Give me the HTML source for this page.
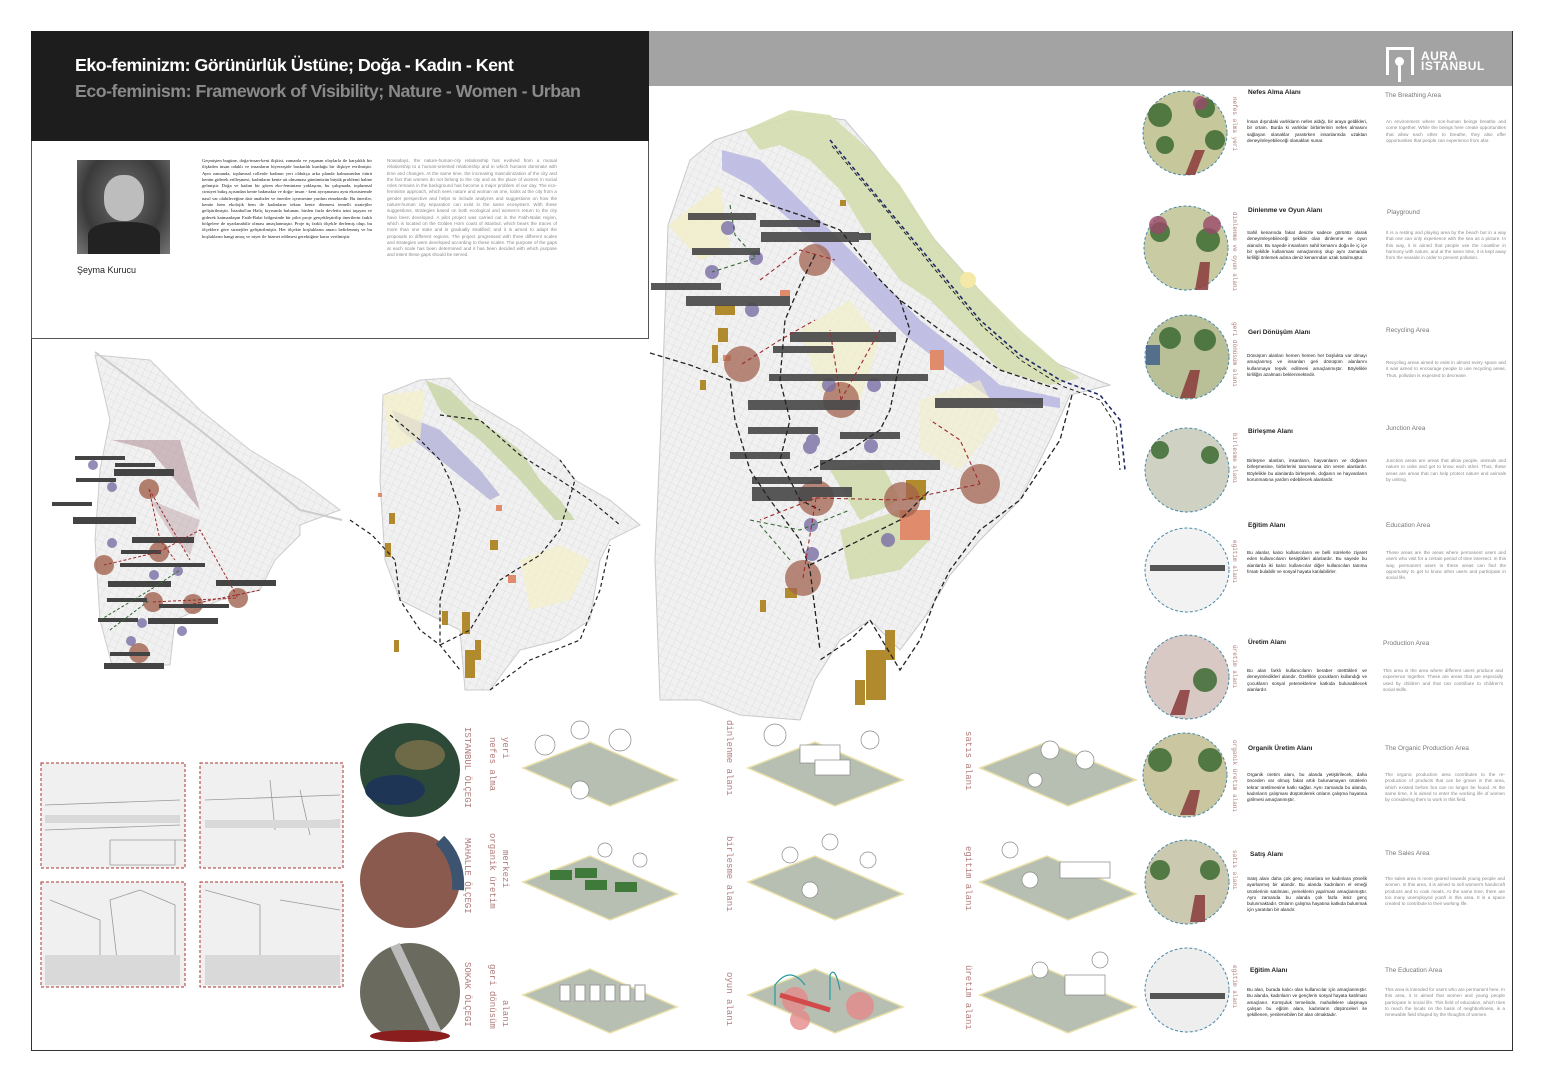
<!DOCTYPE html>
<html><head><meta charset="utf-8">
<style>
*{margin:0;padding:0;box-sizing:border-box}
body{width:1542px;height:1079px;background:#fff;position:relative;overflow:hidden;font-family:"Liberation Sans",sans-serif}
.a{position:absolute}
.p{position:absolute;font-size:4.6px;line-height:6.3px;text-align:justify;color:#222}
.pg{position:absolute;font-size:4.6px;line-height:6.3px;text-align:justify;color:#888}
.t{position:absolute;font-size:6.5px;font-weight:bold;color:#222}
.te{position:absolute;font-size:6.5px;color:#777}
.v{position:absolute;writing-mode:vertical-rl;font-family:"Liberation Mono",monospace;color:#b07a7a;font-size:9px}
.vs{position:absolute;writing-mode:vertical-rl;font-family:"Liberation Mono",monospace;color:#b07a7a;font-size:6px}
</style></head><body>
<div class="a" style="left:31px;top:31px;width:1482px;height:1020px;border:1px solid #333"></div>
<div class="a" style="left:31px;top:31px;width:618px;height:110px;background:#1d1d1d"></div>
<div class="a" style="left:649px;top:31px;width:863px;height:55px;background:#a3a3a3"></div>
<div class="a" style="left:31px;top:141px;width:618px;height:198px;border:1px solid #555;border-top:none"></div>
<div class="a" style="left:75px;top:55px;color:#fff;font-size:17.8px;font-weight:bold;letter-spacing:-0.5px">Eko-feminizm: Görünürlük Üstüne; Doğa - Kadın - Kent</div>
<div class="a" style="left:75px;top:81px;color:#8a8a8a;font-size:17.8px;font-weight:bold;letter-spacing:-0.5px">Eco-feminism: Framework of Visibility; Nature - Women - Urban</div>
<!-- logo -->
<div class="a" style="left:1386px;top:47px;width:28px;height:28px;border:3px solid #fff;border-bottom:none"></div>
<div class="a" style="left:1395px;top:57px;width:9px;height:9px;border-radius:50%;background:#fff"></div>
<div class="a" style="left:1398px;top:66px;width:3px;height:16px;background:#fff"></div>
<div class="a" style="left:1421px;top:51px;color:#fff;font-size:12px;font-weight:bold;line-height:10px;letter-spacing:0.5px">AURA<br>ISTANBUL</div>
<!-- photo -->
<div class="a" style="left:77px;top:160px;width:93px;height:94px;background:radial-gradient(ellipse at 50% 40%,#8a8a8a 0,#555 30%,#3a3a3a 60%,#777 100%)"></div>
<div class="a" style="left:104px;top:175px;width:40px;height:46px;border-radius:45%;background:#bdbdbd"></div>
<div class="a" style="left:88px;top:222px;width:72px;height:32px;border-radius:40% 40% 0 0;background:#222"></div>
<div class="a" style="left:77px;top:265px;font-size:9px;color:#222">Şeyma Kurucu</div>
<div class="p" style="left:202px;top:158px;width:170px;font-family:'Liberation Serif',serif">Geçmişten bugüne, doğa-insan-kent ilişkisi, zamanla ve yaşanan olaylarla ile karşılıklı bir ilişkiden insan odaklı ve insanların hiyerarşide baskınlık kurduğu bir ilişkiye evrilmiştir. Aynı zamanda, toplumsal rollerde kadının yeri oldukça arka planda kalmasından ötürü kentin giderek erilleşmesi, kadınların kente ait olmaması günümüzün büyük problemi haline gelmiştir. Doğa ve kadını bir gören eko-feminizm yaklaşımı, bu çalışmada, toplumsal cinsiyet bakış açısından kente bakmakta ve doğa- insan - kent ayrışmasını aynı ekosistemde nasıl var olabileceğine dair analizler ve öneriler içermesine yardım etmektedir. Bu öneriler, kentte hem ekolojik hem de kadınların tekrar kente dönmesi temelli stratejiler geliştirilmiştir. İstanbul'un Haliç kıyısında bulunan, birden fazla devletin izini taşıyan ve giderek katmanlaşan Fatih-Balat bölgesinde bir pilot proje gerçekleştirilip önerilerin farklı bölgelere de uyarlanabilir olması amaçlanmıştır. Proje üç farklı ölçekle ilerlemiş olup, bu ölçeklere göre stratejiler geliştirilmiştir. Her ölçekte boşlukların amacı belirlenmiş ve bu boşlukların hangi amaç ve niyet ile hizmet edilmesi gerektiğine karar verilmiştir.</div>
<div class="pg" style="left:387px;top:158px;width:170px">Nowadays, the nature-human-city relationship has evolved from a mutual relationship to a human-oriented relationship and in which humans dominate with time and changes. At the same time, the increasing masculinization of the city and the fact that women do not belong to the city and as the place of women in social roles remains in the background has become a major problem of our day. The eco-feminism approach, which sees nature and woman as one, looks at the city from a gender perspective and helps to include analyzes and suggestions on how the nature-human city separation can exist in the same ecosystem. With these suggestions, strategies based on both ecological and women's return to the city have been developed. A pilot project was carried out in the Fatih-Balat region, which is located on the Golden Horn coast of Istanbul, which bears the traces of more than one state and is gradually stratified; and it is aimed to adapt the proposals to different regions. The project progressed with three different scales and strategies were developed according to these scales. The purpose of the gaps at each scale has been determined and it has been decided with which purpose and intent these gaps should be served.</div>

<svg class="a" style="left:0;top:0" width="1542" height="1079" viewBox="0 0 1542 1079">
<defs>
<pattern id="st" width="7" height="7" patternUnits="userSpaceOnUse" patternTransform="rotate(25)"><rect width="7" height="7" fill="#f1f1f1"/><path d="M0 0H7M0 0V7" stroke="#d2d2d2" stroke-width="0.6"/></pattern>
</defs>
<!-- LEFT MAP -->
<g>
<path d="M95 355 L110 420 L100 470 L95 540 L100 620 L112 665 L170 665 L175 620 L220 600 L260 590 L275 560 L300 535 L300 525 L340 510 L300 480 L250 450 L200 410 L150 360 Z" fill="url(#st)" stroke="#ccc"/>
<path d="M95 352 L200 430 L300 510 L342 520" fill="none" stroke="#ccc" stroke-width="2"/>
<path d="M112 440 L150 450 L200 510 L180 440 Z" fill="#a9848c" opacity=".5"/>
<path d="M150 500 L175 540 L190 555 L200 520 Z" fill="#a9848c" opacity=".35"/>
<g fill="#a2634f" opacity=".8">
<circle cx="149" cy="489" r="10"/><circle cx="104" cy="565" r="10"/><circle cx="159" cy="552" r="10"/><circle cx="153" cy="602" r="10"/><circle cx="193" cy="604" r="10"/><circle cx="238" cy="598" r="10"/><circle cx="139" cy="653" r="10"/></g>
<g fill="#7a6fa6" opacity=".8">
<circle cx="93" cy="465" r="5"/><circle cx="112" cy="487" r="5"/><circle cx="112" cy="543" r="5"/><circle cx="154" cy="575" r="5"/><circle cx="178" cy="571" r="5"/><circle cx="142" cy="623" r="5"/><circle cx="182" cy="631" r="5"/><circle cx="131" cy="641" r="5"/></g>
<g fill="#444"><rect x="75" y="456" width="50" height="4"/><rect x="115" y="463" width="40" height="4"/><rect x="114" y="469" width="60" height="7"/><rect x="76" y="478" width="40" height="4"/><rect x="52" y="502" width="40" height="4"/><rect x="73" y="517" width="63" height="7"/><rect x="132" y="537" width="62" height="6"/><rect x="121" y="550" width="40" height="4"/><rect x="120" y="563" width="60" height="4"/><rect x="165" y="563" width="40" height="4"/><rect x="108" y="581" width="63" height="6"/><rect x="107" y="598" width="40" height="4"/><rect x="159" y="604" width="70" height="4"/><rect x="216" y="580" width="60" height="6"/><rect x="98" y="618" width="40" height="4"/><rect x="148" y="618" width="70" height="6"/><rect x="110" y="652" width="40" height="4"/><rect x="104" y="663" width="60" height="6"/></g>
<g stroke="#9b2d2d" stroke-width="1" stroke-dasharray="3 2" fill="none"><path d="M149 489 L160 540 L175 560 M149 489 L190 560 M159 552 L200 530 L238 598 M153 602 L238 598 M193 604 L260 590 M104 565 L159 552"/></g>
<g stroke="#3a6a3a" stroke-width="1" stroke-dasharray="3 2" fill="none"><path d="M100 620 L150 590 L180 570 M110 630 L150 600"/></g>
</g>
<!-- MIDDLE MAP -->
<g>
<path d="M383 395 L420 380 L450 378 L470 400 L520 430 L560 460 L575 480 L610 500 L640 525 L610 540 L600 560 L590 620 L560 640 L520 650 L490 690 L465 690 L460 630 L400 600 L385 560 L380 480 Z" fill="url(#st)" stroke="#ccc"/>
<path d="M425 380 L450 390 L480 420 L520 450 L540 480 L560 500 L575 520 L555 520 L520 480 L480 440 L440 410 Z" fill="#c7d4a4" opacity=".8"/>
<path d="M392 410 L440 430 L480 470 L500 495 L490 500 L440 460 L400 430 Z" fill="#b3b3d8" opacity=".8"/>
<path d="M383 395 L425 390 L420 440 L390 450 Z" fill="#f3f0c8" opacity=".7"/>
<path d="M520 560 L560 545 L590 560 L570 600 L530 610 Z" fill="#f3f0c8" opacity=".7"/>
<g fill="#b28a2e"><rect x="389" y="513" width="6" height="11"/><rect x="385" y="543" width="6" height="14"/><rect x="442" y="611" width="6" height="14"/><rect x="462" y="612" width="8" height="22"/><rect x="465" y="650" width="10" height="28"/><rect x="475" y="640" width="6" height="20"/><rect x="490" y="540" width="8" height="10"/><rect x="394" y="640" width="5" height="12"/></g>
<g fill="#e08b6b"><rect x="508" y="575" width="8" height="8"/><rect x="496" y="505" width="6" height="6"/><rect x="378" y="493" width="4" height="4"/></g>
<g stroke="#222" stroke-width="1.2" stroke-dasharray="4 3" fill="none">
<path d="M350 520 L372 535 L395 560 L400 600 L420 630 L440 645 L460 670"/>
<path d="M390 415 L420 440 L440 460 L450 480 L460 510 L450 560 L440 600 L440 645 L470 630 L500 580 L540 555 L560 530 L575 480 L560 460"/>
<path d="M490 690 L530 660 L580 640 L600 590 L610 545"/>
<path d="M440 415 L480 420 L520 455 L560 480 L590 500 L620 525"/>
</g>
</g>
<!-- BIG MAP -->
<g>
<path d="M668 225 L690 160 L715 140 L745 130 L780 120 L810 115 L845 120 L875 155 L900 190 L935 240 L975 285 L1020 340 L1060 365 L1110 385 L1070 395 L1050 440 L1020 500 L980 540 L950 575 L930 610 L900 650 L870 620 L840 640 L815 680 L800 720 L740 715 L700 700 L660 700 L655 560 L662 400 Z" fill="url(#st)" stroke="#c8c8c8"/>
<path d="M745 130 L790 110 L830 115 L870 150 L900 185 L935 240 L975 285 L1020 330 L1060 365 L1080 378 L1050 385 L1000 370 L960 330 L930 300 L900 280 L870 240 L840 190 L810 160 L780 145 L760 150 Z" fill="#d4ddb0" opacity=".9"/>
<path d="M722 150 L760 160 L800 200 L840 240 L880 280 L920 320 L965 355 L1000 385 L1060 398 L1060 408 L990 398 L950 370 L905 335 L870 300 L830 260 L790 220 L750 185 L722 170 Z" fill="#b9b6e0" opacity=".85"/>
<path d="M668 225 L720 185 L730 250 L700 260 Z" fill="#f2efc8" opacity=".8"/>
<path d="M800 330 L850 300 L880 340 L860 400 L820 390 Z" fill="#f2efc8" opacity=".7"/>
<path d="M920 400 L980 380 L1000 420 L960 470 L920 450 Z" fill="#f2efc8" opacity=".6"/>
<path d="M830 470 L880 460 L900 500 L860 520 Z" fill="#cfd9a8" opacity=".8"/>
<path d="M840 530 L900 510 L930 540 L900 570 L850 580 Z" fill="#cfd9a8" opacity=".8"/>
<circle cx="968" cy="280" r="8" fill="#f4e9a7"/>
<g fill="#b28a2e"><rect x="718" y="328" width="10" height="14"/><rect x="712" y="345" width="6" height="18"/><rect x="700" y="380" width="6" height="10"/><rect x="715" y="305" width="20" height="10"/><rect x="906" y="480" width="20" height="20"/><rect x="866" y="650" width="20" height="50"/><rect x="885" y="630" width="10" height="30"/><rect x="855" y="680" width="10" height="25"/><rect x="785" y="588" width="12" height="10"/><rect x="760" y="600" width="6" height="12"/><rect x="840" y="200" width="6" height="6"/></g>
<g fill="#e08b6b"><rect x="900" y="510" width="30" height="30"/><rect x="930" y="350" width="14" height="20"/><rect x="780" y="290" width="10" height="6"/><rect x="723" y="355" width="8" height="6"/></g>
<g fill="#a2634f" opacity=".75"><circle cx="742" cy="364" r="18"/><circle cx="816" cy="498" r="18"/><circle cx="841" cy="400" r="18"/><circle cx="902" cy="500" r="18"/><circle cx="980" cy="484" r="20"/><circle cx="803" cy="578" r="18"/><circle cx="815" cy="260" r="16"/></g>
<g fill="#7a6fa6" opacity=".8"><circle cx="728" cy="228" r="7"/><circle cx="756" cy="258" r="7"/><circle cx="712" cy="272" r="7"/><circle cx="752" cy="310" r="7"/><circle cx="829" cy="385" r="7"/><circle cx="874" cy="385" r="7"/><circle cx="813" cy="441" r="7"/><circle cx="871" cy="446" r="7"/><circle cx="810" cy="447" r="7"/><circle cx="812" cy="554" r="7"/><circle cx="888" cy="540" r="7"/><circle cx="811" cy="525" r="7"/></g>
<g fill="#4a4a4a" opacity=".92">
<rect x="688" y="213" width="68" height="7"/><rect x="760" y="220" width="60" height="7"/><rect x="761" y="232" width="98" height="10"/><rect x="791" y="233" width="80" height="7"/><rect x="692" y="248" width="68" height="7"/><rect x="651" y="283" width="70" height="7"/><rect x="686" y="296" width="104" height="10"/><rect x="790" y="332" width="106" height="10"/><rect x="773" y="346" width="60" height="7"/><rect x="769" y="374" width="80" height="7"/><rect x="848" y="374" width="80" height="7"/><rect x="935" y="398" width="108" height="10"/><rect x="748" y="400" width="112" height="10"/><rect x="748" y="427" width="70" height="7"/><rect x="840" y="432" width="60" height="7"/><rect x="730" y="452" width="60" height="7"/><rect x="820" y="460" width="120" height="10"/><rect x="752" y="477" width="70" height="7"/><rect x="752" y="487" width="100" height="10"/><rect x="752" y="494" width="60" height="7"/></g>
<g stroke="#222" stroke-width="1.3" stroke-dasharray="5 3" fill="none">
<path d="M650 353 L690 365 L730 380 L735 420 L750 470 L770 500 L800 540 L810 570 L815 610 L820 650"/>
<path d="M740 195 L800 215 L840 230 L880 280 L900 300 L940 330 L970 350 L1000 370 L1060 390"/>
<path d="M815 255 L800 285 L785 320 L780 380 L790 420 L780 460 L800 500 L820 510"/>
<path d="M900 300 L910 330 L900 360 L890 410 L880 430 L850 450 L810 470"/>
<path d="M1072 395 L1060 440 L1020 500 L980 530 L950 570 L935 600 L920 640 L900 670 L870 620 L850 640 L820 660"/>
<path d="M810 565 L860 540 L900 520 L930 490"/>
</g>
<path d="M830 140 L880 200 L930 260 L980 320 L1020 355 L1060 380 L1100 395 L1120 420 L1125 470" stroke="#1f2a6a" stroke-width="1.6" stroke-dasharray="4 3" fill="none"/>
<path d="M832 146 L882 205 L932 266 L982 326 L1022 361 L1062 386 L1100 400 L1116 425 L1120 470" stroke="#222" stroke-width="1" stroke-dasharray="4 3" fill="none"/>
<g stroke="#9b2d2d" stroke-width="1.1" stroke-dasharray="4 3" fill="none"><path d="M742 364 L780 340 L815 320 M841 400 L830 330 M841 400 L880 330 M816 498 L900 500 M902 500 L980 484 M803 578 L816 498 L760 520 M980 484 L960 440 L930 420 M760 280 L800 250 L835 260"/></g>
<g stroke="#3a6a3a" stroke-width="1.1" stroke-dasharray="4 3" fill="none"><path d="M730 205 L735 235 L756 258 L712 272 M750 520 L800 530 L850 510 M760 525 L790 560"/></g>
</g>
<!-- photos -->
<g stroke="#a33" stroke-width="1" stroke-dasharray="3 2" fill="#f0f0f0">
<rect x="41" y="763" width="144" height="105"/><rect x="200" y="763" width="143" height="105"/><rect x="41" y="882" width="144" height="105"/><rect x="200" y="882" width="143" height="105"/></g>
<g fill="none" stroke="#999" stroke-width="0.8">
<path d="M45 805 L180 800 M45 830 L180 825 M110 840 L185 840 M110 840 L110 865 L175 865 L175 840 M205 800 L340 795 M205 825 L340 820 M270 780 L275 830 M300 790 L310 835 M50 900 L100 920 L100 985 M110 900 L140 890 L175 905 L175 975 L120 985 Z M205 890 L260 905 L260 980 M280 900 L340 910"/></g>
<g fill="#d9d9d9"><rect x="45" y="815" width="135" height="8"/><rect x="205" y="820" width="135" height="8"/><rect x="45" y="955" width="135" height="30"/><rect x="205" y="955" width="135" height="30"/></g>
<!-- satellite circles -->
<ellipse cx="410" cy="770" rx="50" ry="47" fill="#2d4a38"/><ellipse cx="395" cy="790" rx="30" ry="15" fill="#1e3556"/><ellipse cx="420" cy="755" rx="25" ry="15" fill="#6e6a48"/>
<ellipse cx="410" cy="880" rx="50" ry="48" fill="#8a5a4e"/><path d="M440 840 Q460 860 458 890" stroke="#3c5470" stroke-width="12" fill="none"/>
<ellipse cx="410" cy="992" rx="50" ry="49" fill="#6b6a5e"/><path d="M395 945 L440 1040" stroke="#bbb" stroke-width="10"/><ellipse cx="410" cy="1036" rx="40" ry="6" fill="#8a1e1e"/>
<!-- iso diamonds -->
<g fill="#b7bfb2" stroke="#e8e0a8" stroke-width="1.5">
<path d="M523 768 L590 742 L677 780 L610 806 Z"/><path d="M748 768 L815 742 L903 780 L835 806 Z"/><path d="M980 768 L1047 742 L1136 780 L1068 806 Z"/>
<path d="M523 882 L590 856 L677 894 L610 920 Z"/><path d="M748 882 L815 856 L903 894 L835 920 Z"/><path d="M980 882 L1047 856 L1136 894 L1068 920 Z"/>
<path d="M523 995 L590 969 L677 1007 L610 1033 Z"/><path d="M748 995 L815 969 L903 1007 L835 1033 Z"/><path d="M980 995 L1047 969 L1136 1007 L1068 1033 Z"/></g>
<g fill="#fff" stroke="#888" stroke-width="0.7">
<circle cx="545" cy="745" r="10"/><circle cx="580" cy="730" r="9"/><circle cx="620" cy="740" r="11"/><circle cx="580" cy="790" r="9"/>
<circle cx="775" cy="735" r="11"/><rect x="800" y="745" width="40" height="18"/><rect x="815" y="760" width="35" height="15"/><circle cx="870" cy="740" r="9"/>
<circle cx="1050" cy="750" r="9"/><circle cx="1085" cy="760" r="9"/><circle cx="1035" cy="780" r="7"/>
<circle cx="605" cy="850" r="7"/><circle cx="640" cy="860" r="7"/><circle cx="790" cy="855" r="8"/><circle cx="830" cy="842" r="8"/><circle cx="868" cy="860" r="8"/><circle cx="810" cy="890" r="8"/>
<circle cx="1010" cy="850" r="8"/><circle cx="1030" cy="880" r="8"/><rect x="1060" y="862" width="50" height="16"/>
<circle cx="1040" cy="970" r="8"/><rect x="1065" y="975" width="40" height="20"/><circle cx="1100" cy="960" r="8"/></g>
<g fill="#3f7a3a"><rect x="550" y="870" width="22" height="10"/><rect x="575" y="868" width="22" height="10"/><rect x="585" y="880" width="22" height="10"/><rect x="615" y="882" width="22" height="10"/></g>
<g fill="#fff" stroke="#999"><rect x="560" y="985" width="10" height="16"/><rect x="575" y="985" width="10" height="16"/><rect x="590" y="985" width="10" height="16"/><rect x="605" y="985" width="10" height="16"/><rect x="620" y="985" width="10" height="16"/><rect x="635" y="985" width="10" height="16"/></g>
<g fill="#e58a8a" opacity=".8"><circle cx="795" cy="1000" r="13"/><circle cx="860" cy="1006" r="14"/><circle cx="800" cy="1020" r="10"/></g>
<path d="M780 995 L830 1010" stroke="#d24a4a" stroke-width="5"/>
<path d="M775 1005 L775 985 Q790 965 805 985 M830 1000 L830 975 Q835 965 840 990" stroke="#2a9aa0" stroke-width="1.2" fill="none"/>
<!-- right column circles -->
<g stroke="#4a8aa8" stroke-width="1" stroke-dasharray="3 2">
<circle cx="1185" cy="133" r="42" fill="#c7c79c"/><circle cx="1186" cy="248" r="42" fill="#c9cca2"/><circle cx="1187" cy="357" r="42" fill="#b9c098"/><circle cx="1187" cy="470" r="42" fill="#cfd2c2"/><circle cx="1187" cy="570" r="42" fill="#f2f2f2"/><circle cx="1187" cy="677" r="42" fill="#d8c9c4"/><circle cx="1185" cy="775" r="42" fill="#c9c6a0"/><circle cx="1187" cy="882" r="42" fill="#cbc9b0"/><circle cx="1187" cy="990" r="42" fill="#eeeeee"/></g>
<g fill="#3d6b32" opacity=".85">
<circle cx="1160" cy="115" r="12"/><circle cx="1205" cy="108" r="10"/><circle cx="1215" cy="140" r="10"/><circle cx="1165" cy="145" r="9"/>
<circle cx="1160" cy="232" r="10"/><circle cx="1208" cy="240" r="12"/><circle cx="1170" cy="338" r="11"/><circle cx="1205" cy="340" r="11"/>
<circle cx="1160" cy="450" r="9"/><circle cx="1210" cy="455" r="9"/><circle cx="1205" cy="680" r="12"/><circle cx="1160" cy="760" r="12"/><circle cx="1210" cy="760" r="12"/><circle cx="1160" cy="870" r="10"/><circle cx="1210" cy="870" r="10"/></g>
<g fill="#9a4a6a" opacity=".8"><circle cx="1158" cy="225" r="9"/><circle cx="1212" cy="225" r="9"/><circle cx="1200" cy="103" r="7"/></g>
<g fill="#8a3a3a" opacity=".85"><path d="M1185 175 L1195 150 L1205 150 L1195 175Z"/><path d="M1195 290 L1200 262 L1210 262 L1208 290Z"/><path d="M1180 398 L1190 370 L1200 370 L1195 398Z"/><path d="M1170 715 L1180 690 L1190 690 L1185 715Z"/><path d="M1180 815 L1190 790 L1200 790 L1195 815Z"/><path d="M1190 922 L1195 895 L1205 895 L1205 922Z"/></g>
<rect x="1146" y="345" width="14" height="20" fill="#3a5a8a" opacity=".8"/>
<rect x="1150" y="565" width="75" height="6" fill="#555"/><rect x="1150" y="993" width="75" height="6" fill="#555"/>
</svg>

<!-- vertical labels bottom -->
<div class="v" style="left:462px;top:727px">ISTANBUL ÖLÇEGI</div>
<div class="v" style="left:487px;top:737px">nefes alma</div><div class="v" style="left:500px;top:737px">yeri</div>
<div class="v" style="left:462px;top:838px">MAHALLE ÖLÇEGI</div>
<div class="v" style="left:487px;top:833px">organik üretim</div><div class="v" style="left:500px;top:850px">merkezi</div>
<div class="v" style="left:462px;top:962px">SOKAK ÖLÇEGI</div>
<div class="v" style="left:487px;top:964px">geri dönüsüm</div><div class="v" style="left:500px;top:1000px">alanı</div>
<div class="v" style="left:724px;top:720px">dinlenme alanı</div>
<div class="v" style="left:724px;top:836px">birlesme alanı</div>
<div class="v" style="left:724px;top:972px">oyun alanı</div>
<div class="v" style="left:963px;top:731px">satıs alanı</div>
<div class="v" style="left:963px;top:846px">egitim alanı</div>
<div class="v" style="left:963px;top:965px">üretim alanı</div>
<!-- right vertical labels -->
<div class="vs" style="left:1231px;top:97px">nefes alma yeri</div>
<div class="vs" style="left:1231px;top:212px">dinlenme ve oyun alanı</div>
<div class="vs" style="left:1231px;top:322px">geri dönüsüm alanı</div>
<div class="vs" style="left:1231px;top:433px">birlesme alanı</div>
<div class="vs" style="left:1231px;top:540px">egitim alanı</div>
<div class="vs" style="left:1231px;top:645px">üretim alanı</div>
<div class="vs" style="left:1231px;top:740px">organik üretim alanı</div>
<div class="vs" style="left:1231px;top:850px">satıs alanı</div>
<div class="vs" style="left:1231px;top:965px">egitim alanı</div>

<!-- right texts -->
<div class="t" style="left:1248px;top:89px">Nefes Alma Alanı</div><div class="te" style="left:1385px;top:92px">The Breathing Area</div>
<div class="p" style="left:1247px;top:119px;width:120px">İnsan dışındaki varlıkların nefes aldığı, bir araya geldikleri, bir ortam. Burda ki varlıklar birbirlerinin nefes almasını sağlayan olanaklar yaratırken insanlarında uzaktan deneyimleyebileceği olanakları sunar.</div>
<div class="pg" style="left:1386px;top:119px;width:120px">An environment where non-human beings breathe and come together. While the beings here create opportunities that allow each other to breathe, they also offer opportunities that people can experience from afar.</div>
<div class="t" style="left:1248px;top:207px">Dinlenme ve Oyun Alanı</div><div class="te" style="left:1387px;top:209px">Playground</div>
<div class="p" style="left:1247px;top:230px;width:120px">Sahil kenarında fakat denizle sadece görüntü olarak deneyimleyebileceği şekilde olan dinlenme ve oyun alanıdır. Bu sayede insanların sahil kenarını doğa ile iç içe bir şekilde kullanması amaçlanmış olup aynı zamanda kirliliği önlemek adına deniz kenarından uzak tutulmuştur.</div>
<div class="pg" style="left:1386px;top:230px;width:120px">It is a resting and playing area by the beach but in a way that one can only experience with the sea as a picture. In this way, it is aimed that people use the coastline in harmony with nature, and at the same time, it is kept away from the seaside in order to prevent pollution.</div>
<div class="t" style="left:1248px;top:329px">Geri Dönüşüm Alanı</div><div class="te" style="left:1386px;top:327px">Recycling Area</div>
<div class="p" style="left:1247px;top:353px;width:120px">Dönüşüm alanları hemen hemen her boşlukta var olmayı amaçlanmış ve insanları geri dönüşüm alanlarını kullanmaya teşvik edilmesi amaçlanmıştır. Böylelikle kirliliğin azalması beklenmektedir.</div>
<div class="pg" style="left:1386px;top:360px;width:120px">Recycling areas aimed to exist in almost every space and it was aimed to encourage people to use recycling areas. Thus, pollution is expected to decrease.</div>
<div class="t" style="left:1248px;top:428px">Birleşme Alanı</div><div class="te" style="left:1386px;top:425px">Junction Area</div>
<div class="p" style="left:1247px;top:458px;width:120px">Birleşme alanları, insanların, hayvanların ve doğanın birleşmesine, birbirlerini tanımasına izin veren alanlardır. Böylelikle bu alanlarda birleşerek, doğanın ve hayvanların korunmasına yardım edebilecek alanlardır.</div>
<div class="pg" style="left:1386px;top:458px;width:120px">Junction areas are areas that allow people, animals and nature to unite and get to know each other. Thus, these areas are areas that can help protect nature and animals by uniting.</div>
<div class="t" style="left:1248px;top:522px">Eğitim Alanı</div><div class="te" style="left:1386px;top:522px">Education Area</div>
<div class="p" style="left:1247px;top:550px;width:120px">Bu alanlar, kalıcı kullanıcıların ve belli sürelerle ziyaret eden kullanıcıların kesiştikleri alanlardır. Bu sayede bu alanlarda iki kalıcı kullanıcılar diğer kullanıcıları tanıma fırsatı bulabilir ve sosyal hayata katılabilirler.</div>
<div class="pg" style="left:1386px;top:550px;width:120px">These areas are the areas where permanent users and users who visit for a certain period of time intersect. In this way, permanent users in these areas can find the opportunity to get to know other users and participate in social life.</div>
<div class="t" style="left:1248px;top:639px">Üretim Alanı</div><div class="te" style="left:1383px;top:640px">Production Area</div>
<div class="p" style="left:1247px;top:668px;width:120px">Bu alan farklı kullanıcıların beraber üretttikleri ve deneyimledikleri alandır. Özellikle çocukların kullandığı ve çocukların sosyal yeteneklerine katkıda bulunabilecek alanlardır.</div>
<div class="pg" style="left:1383px;top:668px;width:120px">This area is the area where different users produce and experience together. These are areas that are especially used by children and that can contribute to children's social skills.</div>
<div class="t" style="left:1248px;top:745px">Organik Üretim Alanı</div><div class="te" style="left:1385px;top:745px">The Organic Production Area</div>
<div class="p" style="left:1247px;top:772px;width:120px">Organik üretim alanı, bu alanda yetiştirilecek, daha önceden var olmuş fakat artık bulunamayan ürünlerin tekrar üretilmesine katkı sağlar. Aynı zamanda bu alanda, kadınların çalışması düşünülerek onların çalışma hayatına girilmesi amaçlanmıştır.</div>
<div class="pg" style="left:1385px;top:772px;width:120px">The organic production area contributes to the re-production of products that can be grown in this area, which existed before but can no longer be found. At the same time, it is aimed to enter the working life of women by considering them to work in this field.</div>
<div class="t" style="left:1250px;top:851px">Satış Alanı</div><div class="te" style="left:1385px;top:850px">The Sales Area</div>
<div class="p" style="left:1247px;top:876px;width:120px">Satış alanı daha çok genç insanlara ve kadınlara yönelik ayarlanmış bir alandır. Bu alanda kadınların el emeği ürünlerinin satılması, yemeklerin yapılması amaçlanmıştır. Aynı zamanda bu alanda çok fazla issiz genç bulunmaktadır. Onların çalışma hayatına katkıda bulunmak için yaratılan bir alandır.</div>
<div class="pg" style="left:1385px;top:876px;width:120px">The sales area is more geared towards young people and women. In this area, it is aimed to sell women's handicraft products and to cook meals. At the same time, there are too many unemployed youth in this area. It is a space created to contribute to their working life.</div>
<div class="t" style="left:1250px;top:967px">Eğitim Alanı</div><div class="te" style="left:1385px;top:967px">The Education Area</div>
<div class="p" style="left:1247px;top:987px;width:120px">Bu alan, burada kalıcı olan kullanıcılar için amaçlanmıştır. Bu alanda, kadınların ve gençlerin sosyal hayata katılması amaçlanır. Komşuluk temelinde, mahallelere ulaşmaya çalışan bu eğitim alanı, kadınların düşünceleri ile şekillenen, yenilenebilen bir alan olmaktadır.</div>
<div class="pg" style="left:1385px;top:987px;width:120px">This area is intended for users who are permanent here. In this area, it is aimed that women and young people participate in social life. This field of education, which tries to reach the locals on the basis of neighborliness, is a renewable field shaped by the thoughts of women.</div>
</body></html>
